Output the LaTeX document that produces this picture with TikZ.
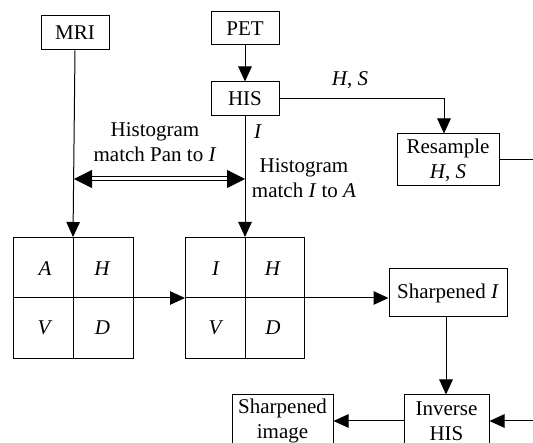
\documentclass[tikz,border=0pt]{standalone}
\usepackage{fontspec}
\setmainfont{Liberation Serif}
\usetikzlibrary{arrows.meta,calc}
\begin{document}
\begin{tikzpicture}[x=1pt,y=-1pt,
  every node/.style={font=\fontsize{21}{25}\selectfont, inner sep=0pt},
  box/.style={draw, line width=1pt, align=center},
  conn/.style={line width=1pt},
  arr/.style={conn, -{Triangle[length=15pt,width=13.5pt]}},
  dbl/.style={double, double distance=3pt, line width=1pt,
     {Triangle[length=18pt,width=18pt]}-{Triangle[length=18pt,width=18pt]}},
  lbl/.style={align=center}]
\useasboundingbox (0,0) rectangle (533,443);
\clip (0,0) rectangle (533,443);
% boxes
\node[box, minimum width=68pt, minimum height=34pt] (mri) at (75,33) {MRI};
\node[box, minimum width=68pt, minimum height=33pt] (pet) at (245,28.5) {PET};
\node[box, minimum width=68pt, minimum height=34pt] (his) at (245,99) {HIS};
\node[box, minimum width=102pt, minimum height=52pt] (res) at (448,160) {Resample\\\textit{H}, \textit{S}};
\node[box, minimum width=120pt, minimum height=121pt] (lg) at (73,298) {};
\node[box, minimum width=119pt, minimum height=121pt] (rg) at (245,298) {};
\node[box, minimum width=118pt, minimum height=48pt] (sh) at (448,293) {Sharpened \textit{I}};
\node[box, minimum width=85pt, minimum height=52pt] (inv) at (446.5,421) {Inverse\\HIS};
\node[box, minimum width=101pt, minimum height=52pt] (shi) at (282.5,421) {Sharpened\\image};
% grid dividers
\draw[conn] (lg.north) -- (lg.south);
\draw[conn] (lg.west) -- (lg.east);
\draw[conn] (rg.north) -- (rg.south);
\draw[conn] (rg.west) -- (rg.east);
% grid letters
\node (ga) at (45,269) {\textit{A}};
\node (gh) at (102.5,269) {\textit{H}};
\node (gv) at (45,328) {\textit{V}};
\node (gd) at (102.5,328) {\textit{D}};
\node (ri) at (216,269) {\textit{I}};
\node (rh) at (273,269) {\textit{H}};
\node (rv) at (216,328) {\textit{V}};
\node (rd) at (273,328) {\textit{D}};
% connectors
\draw[arr] (pet) -- (his);
\draw[arr] (his.east) -| ($(res.north)+(-4,0)$);
\draw[arr] (mri.south) -- (lg.north);
\draw[arr] (his.south) -- (rg.north);
\draw[arr] (lg.east) -- (rg.west);
\draw[arr] (rg.east) -- (rg.east -| sh.west);
\draw[arr] ($(sh.south)+(-2,0)$) -- ($(inv.north)+(-0.5,0)$);
\draw[arr] (inv.west |- shi.east) -- (shi.east);
\coordinate (rc) at (560,160);
\draw[arr] (res.east) -- (rc) |- (inv.east);
% double arrow
\coordinate (d1) at (74,179);
\coordinate (d2) at (245,179);
\draw[dbl] (d1) -- (d2);
% labels
\node (hs) at (350,80) {\textit{H}, \textit{S}};
\node (il) at (258,132) {\textit{I}};
\node[lbl] (hm1) at (155,142) {Histogram\\match Pan to \textit{I}};
\node[lbl] (hm2) at (304,178) {Histogram\\match \textit{I} to \textit{A}};
\end{tikzpicture}
\end{document}
